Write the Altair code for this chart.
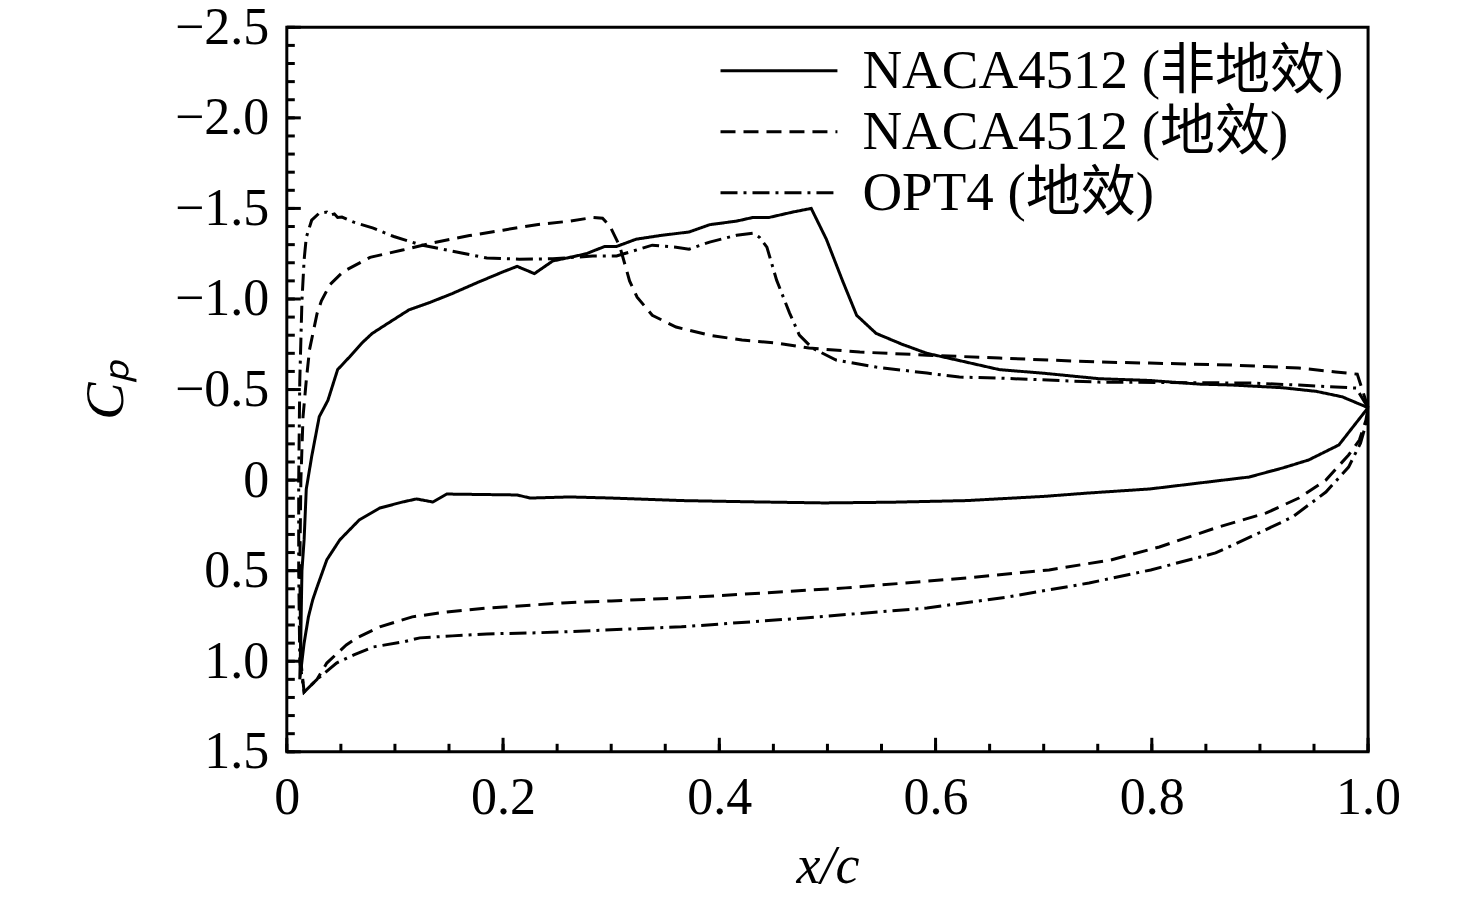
import altair as alt
import pandas as pd

# ---------------- data ----------------
S1 = "NACA4512 (非地效)"
S2 = "NACA4512 (地效)"
S3 = "OPT4 (地效)"

# NACA4512, no ground effect - upper surface (LE -> TE)
s1_up_x = [0.012, 0.013, 0.014, 0.016, 0.018, 0.023, 0.030, 0.038, 0.047, 0.058, 0.070, 0.079,
           0.092, 0.113, 0.132, 0.153, 0.176, 0.200, 0.213, 0.229, 0.246, 0.262, 0.277, 0.294,
           0.305, 0.323, 0.345, 0.372, 0.391, 0.416, 0.431, 0.446, 0.468, 0.485, 0.499, 0.514,
           0.527, 0.545, 0.569, 0.592, 0.622, 0.659, 0.700, 0.751, 0.798, 0.844, 0.874, 0.921,
           0.952, 0.976, 1.000]
s1_up_cp = [1.10, 0.85, 0.50, 0.33, 0.05, -0.13, -0.35, -0.44, -0.61, -0.68, -0.76, -0.81,
            -0.86, -0.94, -0.98, -1.03, -1.09, -1.15, -1.18, -1.14, -1.21, -1.23, -1.25, -1.29,
            -1.29, -1.33, -1.35, -1.37, -1.41, -1.43, -1.45, -1.45, -1.48, -1.50, -1.33, -1.10,
            -0.91, -0.81, -0.75, -0.70, -0.66, -0.61, -0.59, -0.56, -0.55, -0.53, -0.525, -0.51,
            -0.49, -0.46, -0.40]
# lower surface (LE -> TE)
s1_lo_x = [0.012, 0.013, 0.016, 0.020, 0.024, 0.028, 0.037, 0.049, 0.067, 0.086, 0.107, 0.120,
           0.135, 0.148, 0.213, 0.225, 0.262, 0.300, 0.365, 0.430, 0.497, 0.560, 0.629, 0.700,
           0.742, 0.798, 0.844, 0.890, 0.921, 0.945, 0.973, 1.000]
s1_lo_cp = [1.10, 1.05, 0.90, 0.755, 0.66, 0.59, 0.44, 0.33, 0.22, 0.154, 0.121, 0.104,
            0.121, 0.077, 0.082, 0.099, 0.093, 0.099, 0.113, 0.120, 0.126, 0.122, 0.113, 0.090,
            0.071, 0.049, 0.016, -0.017, -0.067, -0.111, -0.194, -0.40]

# NACA4512, ground effect
s2_up_x = [0.016, 0.013, 0.012, 0.013, 0.015, 0.018, 0.021, 0.028, 0.032, 0.040, 0.052, 0.077,
           0.107, 0.135, 0.169, 0.200, 0.231, 0.262, 0.283, 0.292, 0.299, 0.308, 0.317, 0.324,
           0.338, 0.360, 0.391, 0.421, 0.453, 0.483, 0.530, 0.592, 0.659, 0.751, 0.798, 0.874,
           0.936, 0.970, 0.990, 1.000]
s2_up_cp = [1.17, 1.00, 0.50, 0.00, -0.35, -0.55, -0.72, -0.92, -0.99, -1.08, -1.15, -1.23,
            -1.27, -1.31, -1.35, -1.38, -1.41, -1.43, -1.45, -1.446, -1.40, -1.29, -1.10, -1.01,
            -0.91, -0.845, -0.80, -0.773, -0.757, -0.729, -0.707, -0.690, -0.674, -0.652, -0.646, -0.635,
            -0.619, -0.597, -0.585, -0.40]
s2_lo_x = [0.016, 0.028, 0.037, 0.055, 0.065, 0.086, 0.116, 0.148, 0.185, 0.215, 0.255, 0.300,
           0.365, 0.441, 0.517, 0.629, 0.705, 0.762, 0.807, 0.859, 0.906, 0.936, 0.961, 0.982,
           0.992, 0.998, 1.000]
s2_lo_cp = [1.17, 1.10, 1.01, 0.91, 0.87, 0.81, 0.755, 0.728, 0.706, 0.695, 0.678, 0.667,
            0.650, 0.623, 0.595, 0.540, 0.496, 0.441, 0.369, 0.264, 0.181, 0.099, 0.0, -0.139,
            -0.221, -0.33, -0.40]

# OPT4, ground effect
s3_up_x = [0.016, 0.012, 0.011, 0.011, 0.012, 0.014, 0.016, 0.018, 0.023, 0.030, 0.037, 0.040,
           0.044, 0.047, 0.051, 0.062, 0.080, 0.099, 0.123, 0.157, 0.185, 0.215, 0.246, 0.283,
           0.305, 0.317, 0.338, 0.360, 0.372, 0.391, 0.416, 0.431, 0.437, 0.444, 0.453, 0.465,
           0.474, 0.486, 0.508, 0.545, 0.592, 0.622, 0.659, 0.751, 0.890, 0.936, 0.970, 0.989,
           1.000]
s3_up_cp = [1.17, 1.00, 0.50, 0.00, -0.55, -0.99, -1.215, -1.34, -1.435, -1.474, -1.48, -1.463,
            -1.47, -1.45, -1.452, -1.424, -1.391, -1.345, -1.30, -1.259, -1.226, -1.220, -1.222, -1.237,
            -1.237, -1.259, -1.297, -1.286, -1.275, -1.314, -1.352, -1.363, -1.341, -1.286, -1.104, -0.922,
            -0.801, -0.729, -0.663, -0.624, -0.591, -0.569, -0.563, -0.541, -0.536, -0.525, -0.514, -0.508,
            -0.40]
s3_lo_x = [0.016, 0.028, 0.046, 0.062, 0.080, 0.108, 0.123, 0.153, 0.185, 0.231, 0.255, 0.365,
           0.479, 0.592, 0.667, 0.742, 0.799, 0.859, 0.899, 0.930, 0.961, 0.982, 0.993, 1.000]
s3_lo_cp = [1.17, 1.10, 1.01, 0.965, 0.921, 0.893, 0.871, 0.860, 0.849, 0.843, 0.838, 0.810,
            0.761, 0.706, 0.645, 0.568, 0.496, 0.402, 0.292, 0.204, 0.066, -0.072, -0.204, -0.35]

series_names = [S1, S2, S3]
surfaces = [(S1, s1_up_x, s1_up_cp, s1_lo_x, s1_lo_cp),
            (S2, s2_up_x, s2_up_cp, s2_lo_x, s2_lo_cp),
            (S3, s3_up_x, s3_up_cp, s3_lo_x, s3_lo_cp)]

rows = []
for name, ux, ucp, lx, lcp in surfaces:
    path_x = list(reversed(ux)) + lx
    path_cp = list(reversed(ucp)) + lcp
    for i, (a, b) in enumerate(zip(path_x, path_cp)):
        rows.append({"x": a, "cp": b, "series": name, "ord": i})
df = pd.DataFrame(rows)

y_major = [-2.5, -2.0, -1.5, -1.0, -0.5, 0.0, 0.5, 1.0, 1.5]
y_minor = [round(-2.5 + 0.1 * i, 1) for i in range(41)]
x_major = [0.0, 0.2, 0.4, 0.6, 0.8, 1.0]
x_minor = [round(0.05 * i, 2) for i in range(21)]

W, H = 1082, 725
FONT = "Liberation Serif"
LEGFONT = "Liberation Serif, Noto Sans CJK SC"
LW = 3

xscale = alt.Scale(domain=[0, 1], nice=False, zero=False)
yscale = alt.Scale(domain=[-2.5, 1.5], nice=False, zero=False, reverse=True)

label_expr = "datum.value == 0 ? '0' : format(datum.value, '.1f')"

xaxis = alt.Axis(values=x_major, labelExpr=label_expr, ticks=False, domain=False, grid=False,
                 labelFlush=False,
                 labelFont=FONT, labelFontSize=52, labelColor="black", labelPadding=21,
                 title="x/c", titleFont=FONT, titleFontSize=54, titleFontStyle="italic",
                 titleFontWeight="normal", titleColor="black", titlePadding=16)
yaxis = alt.Axis(values=y_major, labelExpr=label_expr, ticks=False, domain=False, grid=False,
                 labelFlush=False,
                 labelFont=FONT, labelFontSize=52, labelColor="black", labelPadding=18,
                 title="Cₚ", titleFont=FONT, titleFontSize=56, titleFontStyle="italic",
                 titleFontWeight="normal", titleColor="black", titlePadding=40)

lines = alt.Chart(df).mark_line(strokeWidth=LW, color="black", strokeCap="butt").encode(
    x=alt.X("x:Q", scale=xscale, axis=xaxis),
    y=alt.Y("cp:Q", scale=yscale, axis=yaxis),
    strokeDash=alt.StrokeDash("series:N",
                              scale=alt.Scale(domain=series_names,
                                              range=[[1, 0], [15, 8], [17, 6, 3, 6]]),
                              legend=alt.Legend(orient="none", legendX=465, legendY=16, title=None,
                                                symbolType="M-3,0H3", symbolSize=1521,
                                                symbolStrokeWidth=LW, symbolStrokeColor="black",
                                                symbolFillColor="transparent",
                                                labelFont=LEGFONT, labelFontSize=55, labelColor="black",
                                                labelOffset=56, rowPadding=5, labelLimit=1000)),
    order="ord:Q",
    detail="series:N",
)

ymaj_df = pd.DataFrame({"v": y_major})
ymin_df = pd.DataFrame({"v": y_minor})
xmaj_df = pd.DataFrame({"v": x_major})
xmin_df = pd.DataFrame({"v": x_minor})

ytick_major = alt.Chart(ymaj_df).mark_rule(color="black", strokeWidth=LW).encode(
    y=alt.Y("v:Q", scale=yscale, axis=yaxis), x=alt.value(0), x2=alt.value(14))
ytick_minor = alt.Chart(ymin_df).mark_rule(color="black", strokeWidth=LW).encode(
    y=alt.Y("v:Q", scale=yscale, axis=yaxis), x=alt.value(0), x2=alt.value(8))
xtick_major = alt.Chart(xmaj_df).mark_rule(color="black", strokeWidth=LW).encode(
    x=alt.X("v:Q", scale=xscale, axis=xaxis), y=alt.value(H), y2=alt.value(H - 14))
xtick_minor = alt.Chart(xmin_df).mark_rule(color="black", strokeWidth=LW).encode(
    x=alt.X("v:Q", scale=xscale, axis=xaxis), y=alt.value(H), y2=alt.value(H - 8))

chart = alt.layer(lines, ytick_minor, ytick_major, xtick_minor, xtick_major).properties(
    width=W, height=H,
    autosize=alt.AutoSizeParams(type="none"),
    padding={"left": 279, "top": 19, "right": 100, "bottom": 145},
    background="white",
).configure_view(stroke="black", strokeWidth=3)

chart.save("out.html", embed_options={"renderer": "svg", "actions": False})
